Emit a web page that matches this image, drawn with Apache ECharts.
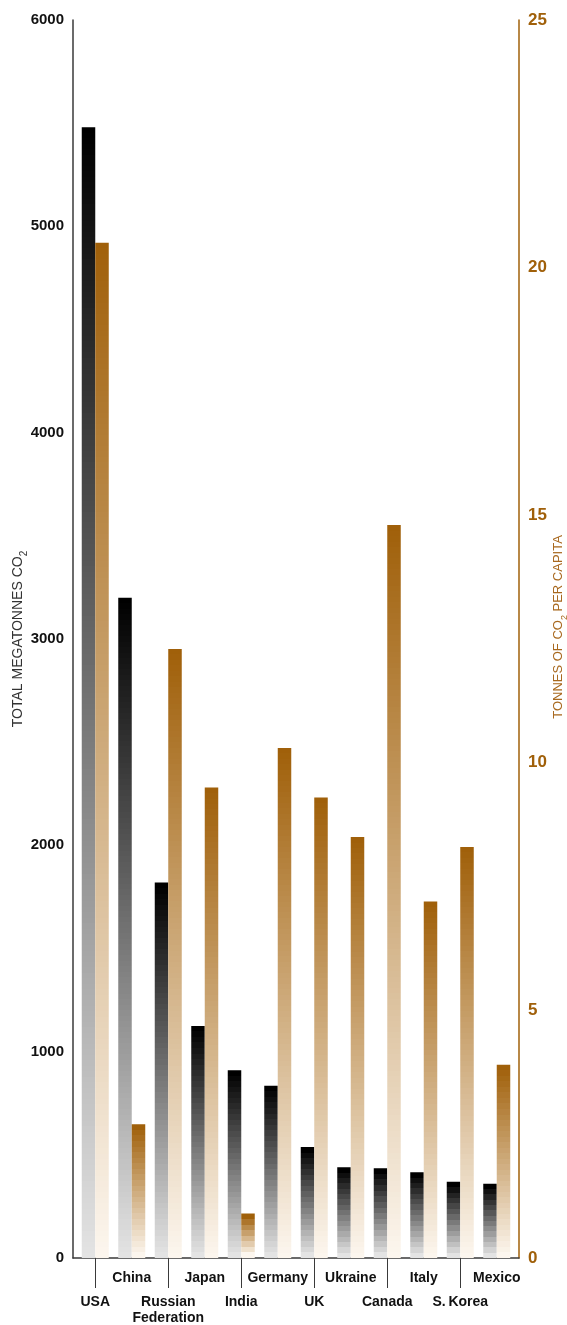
<!DOCTYPE html>
<html>
<head>
<meta charset="utf-8">
<script src="https://cdn.jsdelivr.net/npm/echarts@6/dist/echarts.min.js"></script>
<style>
  html, body { margin: 0; padding: 0; background: #fff; }
  #chart { width: 567px; height: 1325px; }
</style>
</head>
<body>
<div id="chart"></div>
<script>
// Countries, in order of total emissions
const countries = ['USA', 'China', 'Russian\nFederation', 'Japan', 'India', 'Germany',
                   'UK', 'Ukraine', 'Canada', 'Italy', 'S.\u2009Korea', 'Mexico'];
// Total CO2 emitted, megatonnes
const totalMt = [5480, 3200, 1820, 1125, 910, 835, 538, 440, 435, 415, 370, 360];
// CO2 emitted per person, tonnes
const perCapita = [20.5, 2.7, 12.3, 9.5, 0.9, 10.3, 9.3, 8.5, 14.8, 7.2, 8.3, 3.9];
// Axis ranges and tick steps
const totalAxis = { min: 0, max: 6000, step: 1000 };
const perCapitaAxis = { min: 0, max: 25, step: 5 };

const SANS = "'Liberation Sans', Arial, sans-serif";
const BROWN = '#a0600a';
const INK = '#3a3a3a';
const BAND_PX = 5.5;

const chart = echarts.init(document.getElementById('chart'), null, { renderer: 'canvas' });

function hex(c) { return [1, 3, 5].map(i => parseInt(c.slice(i, i + 2), 16)); }
function mix(a, b, t) {
  const A = hex(a), B = hex(b);
  return 'rgb(' + A.map((v, i) => Math.round(v + (B[i] - v) * t)).join(',') + ')';
}
// Stepped vertical gradient: dark at the top of the bar, pale at the base
function bandedFill(heightPx, top, bottom) {
  const n = Math.max(2, Math.round(heightPx / BAND_PX));
  const stops = [];
  for (let i = 0; i < n; i++) {
    const c = mix(top, bottom, i / (n - 1));
    stops.push({ offset: i / n, color: c }, { offset: (i + 1) / n, color: c });
  }
  return new echarts.graphic.LinearGradient(0, 0, 0, 1, stops);
}

const labelFont = { fontFamily: SANS, fontWeight: 'bold', fontSize: 14, lineHeight: 16, color: '#111' };

const option = {
  animation: false,
  backgroundColor: '#fff',
  grid: [
    { left: 73, right: 48, top: 20, bottom: 67, outerBoundsMode: 'none', containLabel: false },  // frame
    { left: 77, right: 52, top: 20, bottom: 67, outerBoundsMode: 'none', containLabel: false }   // bars
  ],
  xAxis: [
    {
      gridIndex: 0, type: 'value', min: 0, max: 1,
      axisLine: { show: true, lineStyle: { color: INK, width: 1.5 } },
      axisTick: { show: false }, axisLabel: { show: false }, splitLine: { show: false }
    },
    {
      gridIndex: 1, type: 'category', data: countries,
      axisLine: { show: false },
      axisTick: {
        show: true, alignWithLabel: true, length: 30,
        interval: (i) => i % 2 === 0,
        lineStyle: { color: INK, width: 1 }
      },
      axisLabel: {
        interval: 0, margin: 12,
        formatter: (name, i) => {
          if (i % 2 === 1) return '{up|' + name + '}';
          return '{gap| }\n' + name.split('\n').map(s => '{lo|' + s + '}').join('\n');
        },
        rich: {
          up:  labelFont,
          gap: { fontSize: 8, lineHeight: 24 },
          lo:  labelFont
        }
      }
    }
  ],
  yAxis: [
    {
      gridIndex: 0, type: 'value', position: 'left',
      min: totalAxis.min, max: totalAxis.max, interval: totalAxis.step,
      axisLine: { show: true, lineStyle: { color: INK, width: 1.5 } },
      axisTick: { show: false }, splitLine: { show: false },
      axisLabel: { color: '#111', fontFamily: SANS, fontWeight: 'bold', fontSize: 15, margin: 9,
                   formatter: (v) => String(v) },
      name: '{t|TOTAL MEGATONNES CO}{s|2}',
      nameLocation: 'middle', nameRotate: 90, nameGap: 44, nameMoveOverlap: false,
      nameTextStyle: {
        rich: {
          t: { fontFamily: SANS, fontSize: 14, color: '#333', lineHeight: 18, verticalAlign: 'top' },
          s: { fontFamily: SANS, fontSize: 10, color: '#333', lineHeight: 18, verticalAlign: 'bottom' }
        }
      }
    },
    {
      gridIndex: 0, type: 'value', position: 'right',
      min: perCapitaAxis.min, max: perCapitaAxis.max, interval: perCapitaAxis.step,
      axisLine: { show: true, lineStyle: { color: BROWN, width: 1.5 } },
      axisTick: { show: false }, splitLine: { show: false },
      axisLabel: { color: BROWN, fontFamily: SANS, fontWeight: 'bold', fontSize: 17, margin: 9 },
      name: '{t|TONNES OF CO}{s|2}{t| PER CAPITA}',
      nameLocation: 'middle', nameRotate: 90, nameGap: 33, nameMoveOverlap: false,
      nameTextStyle: {
        padding: [0, 0, 0, 24],
        rich: {
          t: { fontFamily: SANS, fontSize: 13, color: '#a8681e', lineHeight: 17, verticalAlign: 'top' },
          s: { fontFamily: SANS, fontSize: 9, color: '#a8681e', lineHeight: 17, verticalAlign: 'bottom' }
        }
      }
    },
    { gridIndex: 1, type: 'value', min: totalAxis.min, max: totalAxis.max, show: false },
    { gridIndex: 1, type: 'value', min: perCapitaAxis.min, max: perCapitaAxis.max, show: false }
  ],
  series: [
    {
      name: 'Total', type: 'bar', xAxisIndex: 1, yAxisIndex: 2,
      barWidth: 13.5, barGap: '0%', data: totalMt, itemStyle: { color: '#000' }
    },
    {
      name: 'Per capita', type: 'bar', xAxisIndex: 1, yAxisIndex: 3,
      barWidth: 13.5, barGap: '0%', data: perCapita, itemStyle: { color: BROWN }
    }
  ]
};

chart.setOption(option);

// Shade each bar with bands of constant pixel height
function barHeight(axisIndex, v) {
  return chart.convertToPixel({ yAxisIndex: axisIndex }, 0) - chart.convertToPixel({ yAxisIndex: axisIndex }, v);
}
chart.setOption({
  series: [
    { data: totalMt.map(v => ({ value: v, itemStyle: { color: bandedFill(barHeight(2, v), '#000000', '#e3e3e3') } })) },
    { data: perCapita.map(v => ({ value: v, itemStyle: { color: bandedFill(barHeight(3, v), '#a0600a', '#fcf6ee') } })) }
  ]
});
</script>
</body>
</html>
